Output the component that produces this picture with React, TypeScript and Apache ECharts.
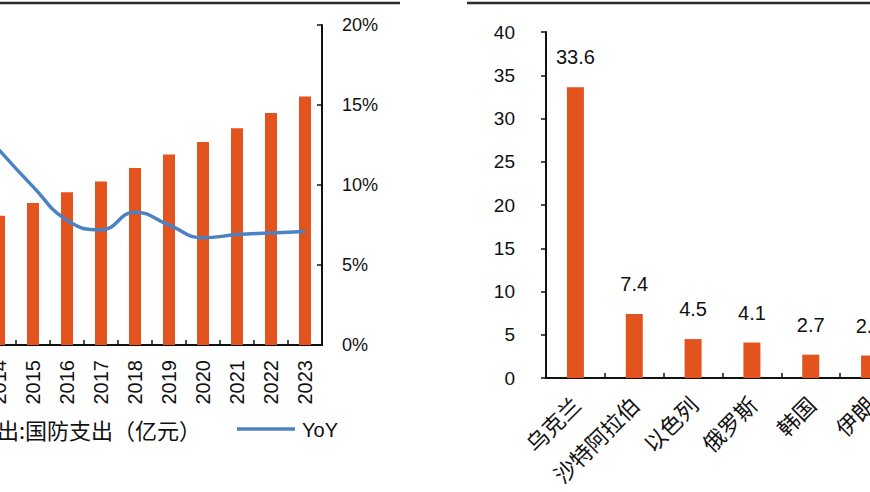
import React, { useEffect, useRef } from "react";
import * as echarts from "echarts";

const years = ["2014", "2015", "2016", "2017", "2018", "2019", "2020", "2021", "2022", "2023"];
const defenseSpending = [8082, 8869, 9544, 10226, 11069, 11899, 12680, 13553, 14504, 15537];
const yoy = [12.2, 9.9, 7.8, 7.2, 8.3, 7.5, 6.7, 6.9, 7.0, 7.1];

const countries = ["乌克兰", "沙特阿拉伯", "以色列", "俄罗斯", "韩国", "伊朗"];
const countryValues = [33.6, 7.4, 4.5, 4.1, 2.7, 2.6];

const BAR_COLOR = "#E2531D";
const LINE_COLOR = "#4A82C4";
const NUM_FONT = "Liberation Sans, Arial, sans-serif";
const CJK_FONT = "Noto Sans CJK SC, sans-serif";

export default function App() {
  const ref = useRef<HTMLDivElement>(null);
  useEffect(() => {
    if (!ref.current) return;
    const chart = echarts.init(ref.current, undefined, { renderer: "svg" });
    chart.setOption({
      animation: false,
      backgroundColor: "#ffffff",
      grid: [
        { left: -18, top: 25, width: 340, height: 320, outerBoundsMode: "none", containLabel: false },
        { left: 546, top: 32, width: 353, height: 346, outerBoundsMode: "none", containLabel: false },
      ],
      xAxis: [
        {
          type: "category",
          gridIndex: 0,
          data: years,
          axisLine: { show: true, lineStyle: { color: "#111", width: 2 } },
          axisTick: { show: true, inside: true, length: 5, lineStyle: { color: "#111", width: 1.5 } },
          axisLabel: {
            rotate: 90,
            margin: 15,
            fontSize: 20,
            color: "#111",
            fontFamily: NUM_FONT,
            interval: 0,
          },
        },
        {
          type: "category",
          gridIndex: 1,
          data: countries,
          axisLine: { show: true, lineStyle: { color: "#111", width: 2 } },
          axisTick: { show: true, inside: true, length: 5, lineStyle: { color: "#111", width: 1.5 } },
          axisLabel: {
            rotate: 45,
            margin: 22,
            fontSize: 22,
            color: "#111",
            fontFamily: CJK_FONT,
            interval: 0,
          },
        },
      ],
      yAxis: [
        { type: "value", gridIndex: 0, min: 0, max: 20000, show: false, splitLine: { show: false } },
        {
          type: "value",
          gridIndex: 0,
          position: "right",
          min: 0,
          max: 20,
          interval: 5,
          splitLine: { show: false },
          axisLine: { show: true, lineStyle: { color: "#111", width: 2 } },
          axisTick: { show: true, inside: true, length: 5, lineStyle: { color: "#111", width: 1.5 } },
          axisLabel: {
            formatter: "{value}%",
            margin: 20,
            fontSize: 18,
            color: "#111",
            fontFamily: NUM_FONT,
          },
        },
        {
          type: "value",
          gridIndex: 1,
          min: 0,
          max: 40,
          interval: 5,
          splitLine: { show: false },
          axisLine: { show: true, lineStyle: { color: "#111", width: 2 } },
          axisTick: { show: true, inside: false, length: 5, lineStyle: { color: "#111", width: 1.5 } },
          axisLabel: {
            margin: 31,
            fontSize: 19,
            color: "#111",
            fontFamily: NUM_FONT,
          },
        },
      ],
      series: [
        {
          name: "支出:国防支出（亿元）",
          type: "bar",
          xAxisIndex: 0,
          yAxisIndex: 0,
          data: defenseSpending,
          barWidth: 12,
          itemStyle: { color: BAR_COLOR },
        },
        {
          name: "YoY",
          type: "line",
          xAxisIndex: 0,
          yAxisIndex: 1,
          data: yoy,
          smooth: true,
          symbol: "none",
          lineStyle: { color: LINE_COLOR, width: 3.5 },
          z: 5,
        },
        {
          name: "国家",
          type: "bar",
          xAxisIndex: 1,
          yAxisIndex: 2,
          data: countryValues,
          barWidth: 17,
          itemStyle: { color: BAR_COLOR },
          label: {
            show: true,
            position: "top",
            distance: 20,
            fontSize: 20,
            color: "#111",
            fontFamily: NUM_FONT,
          },
        },
      ],
      graphic: [
        {
          type: "line",
          shape: { x1: 0, y1: 3, x2: 400, y2: 3 },
          style: { stroke: "#2a2a2a", lineWidth: 2.5 },
        },
        {
          type: "line",
          shape: { x1: 467, y1: 3, x2: 870, y2: 3 },
          style: { stroke: "#2a2a2a", lineWidth: 2.5 },
        },
        {
          type: "text",
          x: -25,
          y: 429,
          style: {
            text: "支出:国防支出（亿元）",
            font: `22px ${CJK_FONT}`,
            fill: "#111",
            verticalAlign: "middle",
            align: "left",
          },
        },
        {
          type: "line",
          shape: { x1: 237, y1: 429, x2: 295, y2: 429 },
          style: { stroke: LINE_COLOR, lineWidth: 3.5 },
        },
        {
          type: "text",
          x: 302,
          y: 430,
          style: {
            text: "YoY",
            font: `20px ${NUM_FONT}`,
            fill: "#111",
            verticalAlign: "middle",
            align: "left",
          },
        },
      ],
    });
    return () => chart.dispose();
  }, []);
  return (
    <div
      style={{ position: "absolute", left: 0, top: 0, width: 870, height: 492, overflow: "hidden", background: "#fff" }}
    >
      <div ref={ref} style={{ width: 870, height: 492 }} />
    </div>
  );
}
